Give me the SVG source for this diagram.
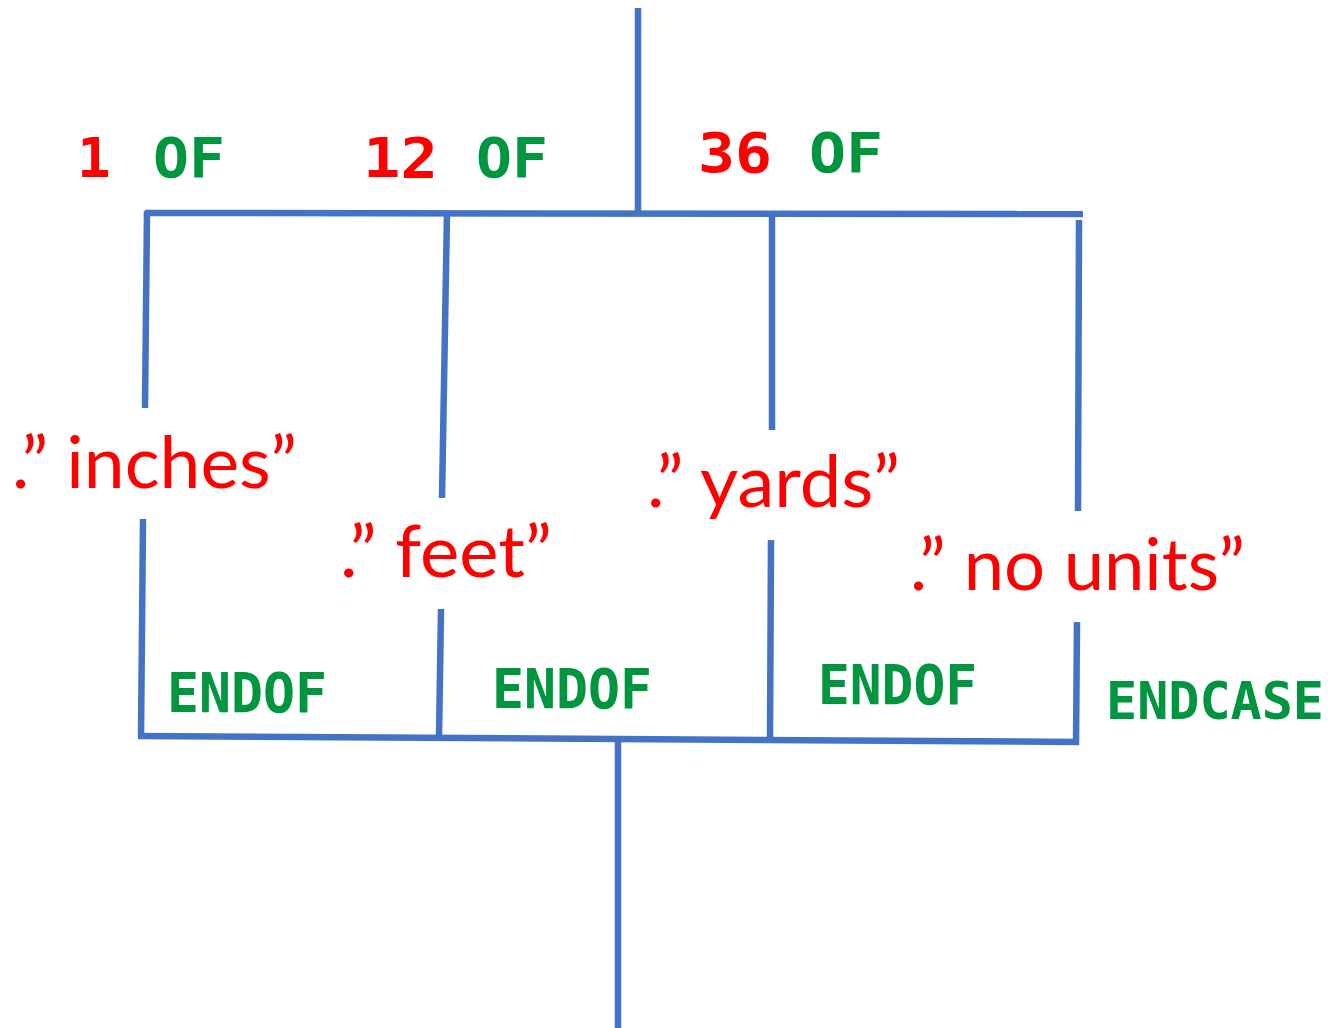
<svg xmlns="http://www.w3.org/2000/svg" width="1332" height="1028" viewBox="0 0 1332 1028">
<style>
.ln{stroke:#4472C4;stroke-width:6.5;fill:none;stroke-linecap:butt}
.px{font-family:"DejaVu Sans Mono","Liberation Mono",monospace;font-weight:bold;font-size:56px}
.px.sm{font-size:52px}
.r{fill:#FF0000}
.g{fill:#009640}
.t{font-family:Lato,"Open Sans",sans-serif;font-size:71px;fill:#FF0000}
</style>
<rect width="1332" height="1028" fill="#FFFFFF"/>
<g id="connectors">
<line class="ln" x1="638" y1="8" x2="638" y2="214"/>
<line class="ln" x1="145" y1="213" x2="1083" y2="214"/>
<line class="ln" x1="147" y1="211" x2="145" y2="408"/>
<line class="ln" x1="143" y1="519" x2="141" y2="737"/>
<line class="ln" x1="447" y1="213" x2="442" y2="498"/>
<line class="ln" x1="441" y1="609" x2="439" y2="738"/>
<line class="ln" x1="772" y1="213" x2="772" y2="430"/>
<line class="ln" x1="771" y1="540" x2="770" y2="740"/>
<line class="ln" x1="1079" y1="220" x2="1078" y2="511"/>
<line class="ln" x1="1077" y1="622" x2="1076" y2="745"/>
<line class="ln" x1="138" y1="736" x2="1079" y2="742"/>
<line class="ln" x1="618" y1="740" x2="618" y2="1028"/>
</g>
<g id="case-labels">
<text class="px r" x="77" y="177">1</text>
<text class="px g" x="153" y="177" textLength="72" lengthAdjust="spacingAndGlyphs">OF</text>
<text class="px r" x="363" y="177" textLength="75" lengthAdjust="spacingAndGlyphs">12</text>
<text class="px g" x="476" y="177" textLength="72" lengthAdjust="spacingAndGlyphs">OF</text>
<text class="px r" x="698" y="172" textLength="74" lengthAdjust="spacingAndGlyphs">36</text>
<text class="px g" x="809" y="172" textLength="74" lengthAdjust="spacingAndGlyphs">OF</text>
</g>
<g id="node-inches"><text class="t" x="12" y="488" textLength="285" lengthAdjust="spacingAndGlyphs">.” inches”</text></g>
<g id="node-feet"><text class="t" x="340" y="577" textLength="212" lengthAdjust="spacingAndGlyphs">.” feet”</text></g>
<g id="node-yards"><text class="t" x="647" y="507" textLength="253" lengthAdjust="spacingAndGlyphs">.” yards”</text></g>
<g id="node-nounits"><text class="t" x="910" y="590" textLength="335" lengthAdjust="spacingAndGlyphs">.” no units”</text></g>
<g id="end-labels">
<text class="px g" x="167" y="712" textLength="160" lengthAdjust="spacingAndGlyphs">ENDOF</text>
<text class="px g" x="492" y="708" textLength="160" lengthAdjust="spacingAndGlyphs">ENDOF</text>
<text class="px g" x="818" y="704" textLength="159" lengthAdjust="spacingAndGlyphs">ENDOF</text>
<text class="px sm g" x="1106" y="719" textLength="218" lengthAdjust="spacingAndGlyphs">ENDCASE</text>
</g>
</svg>
